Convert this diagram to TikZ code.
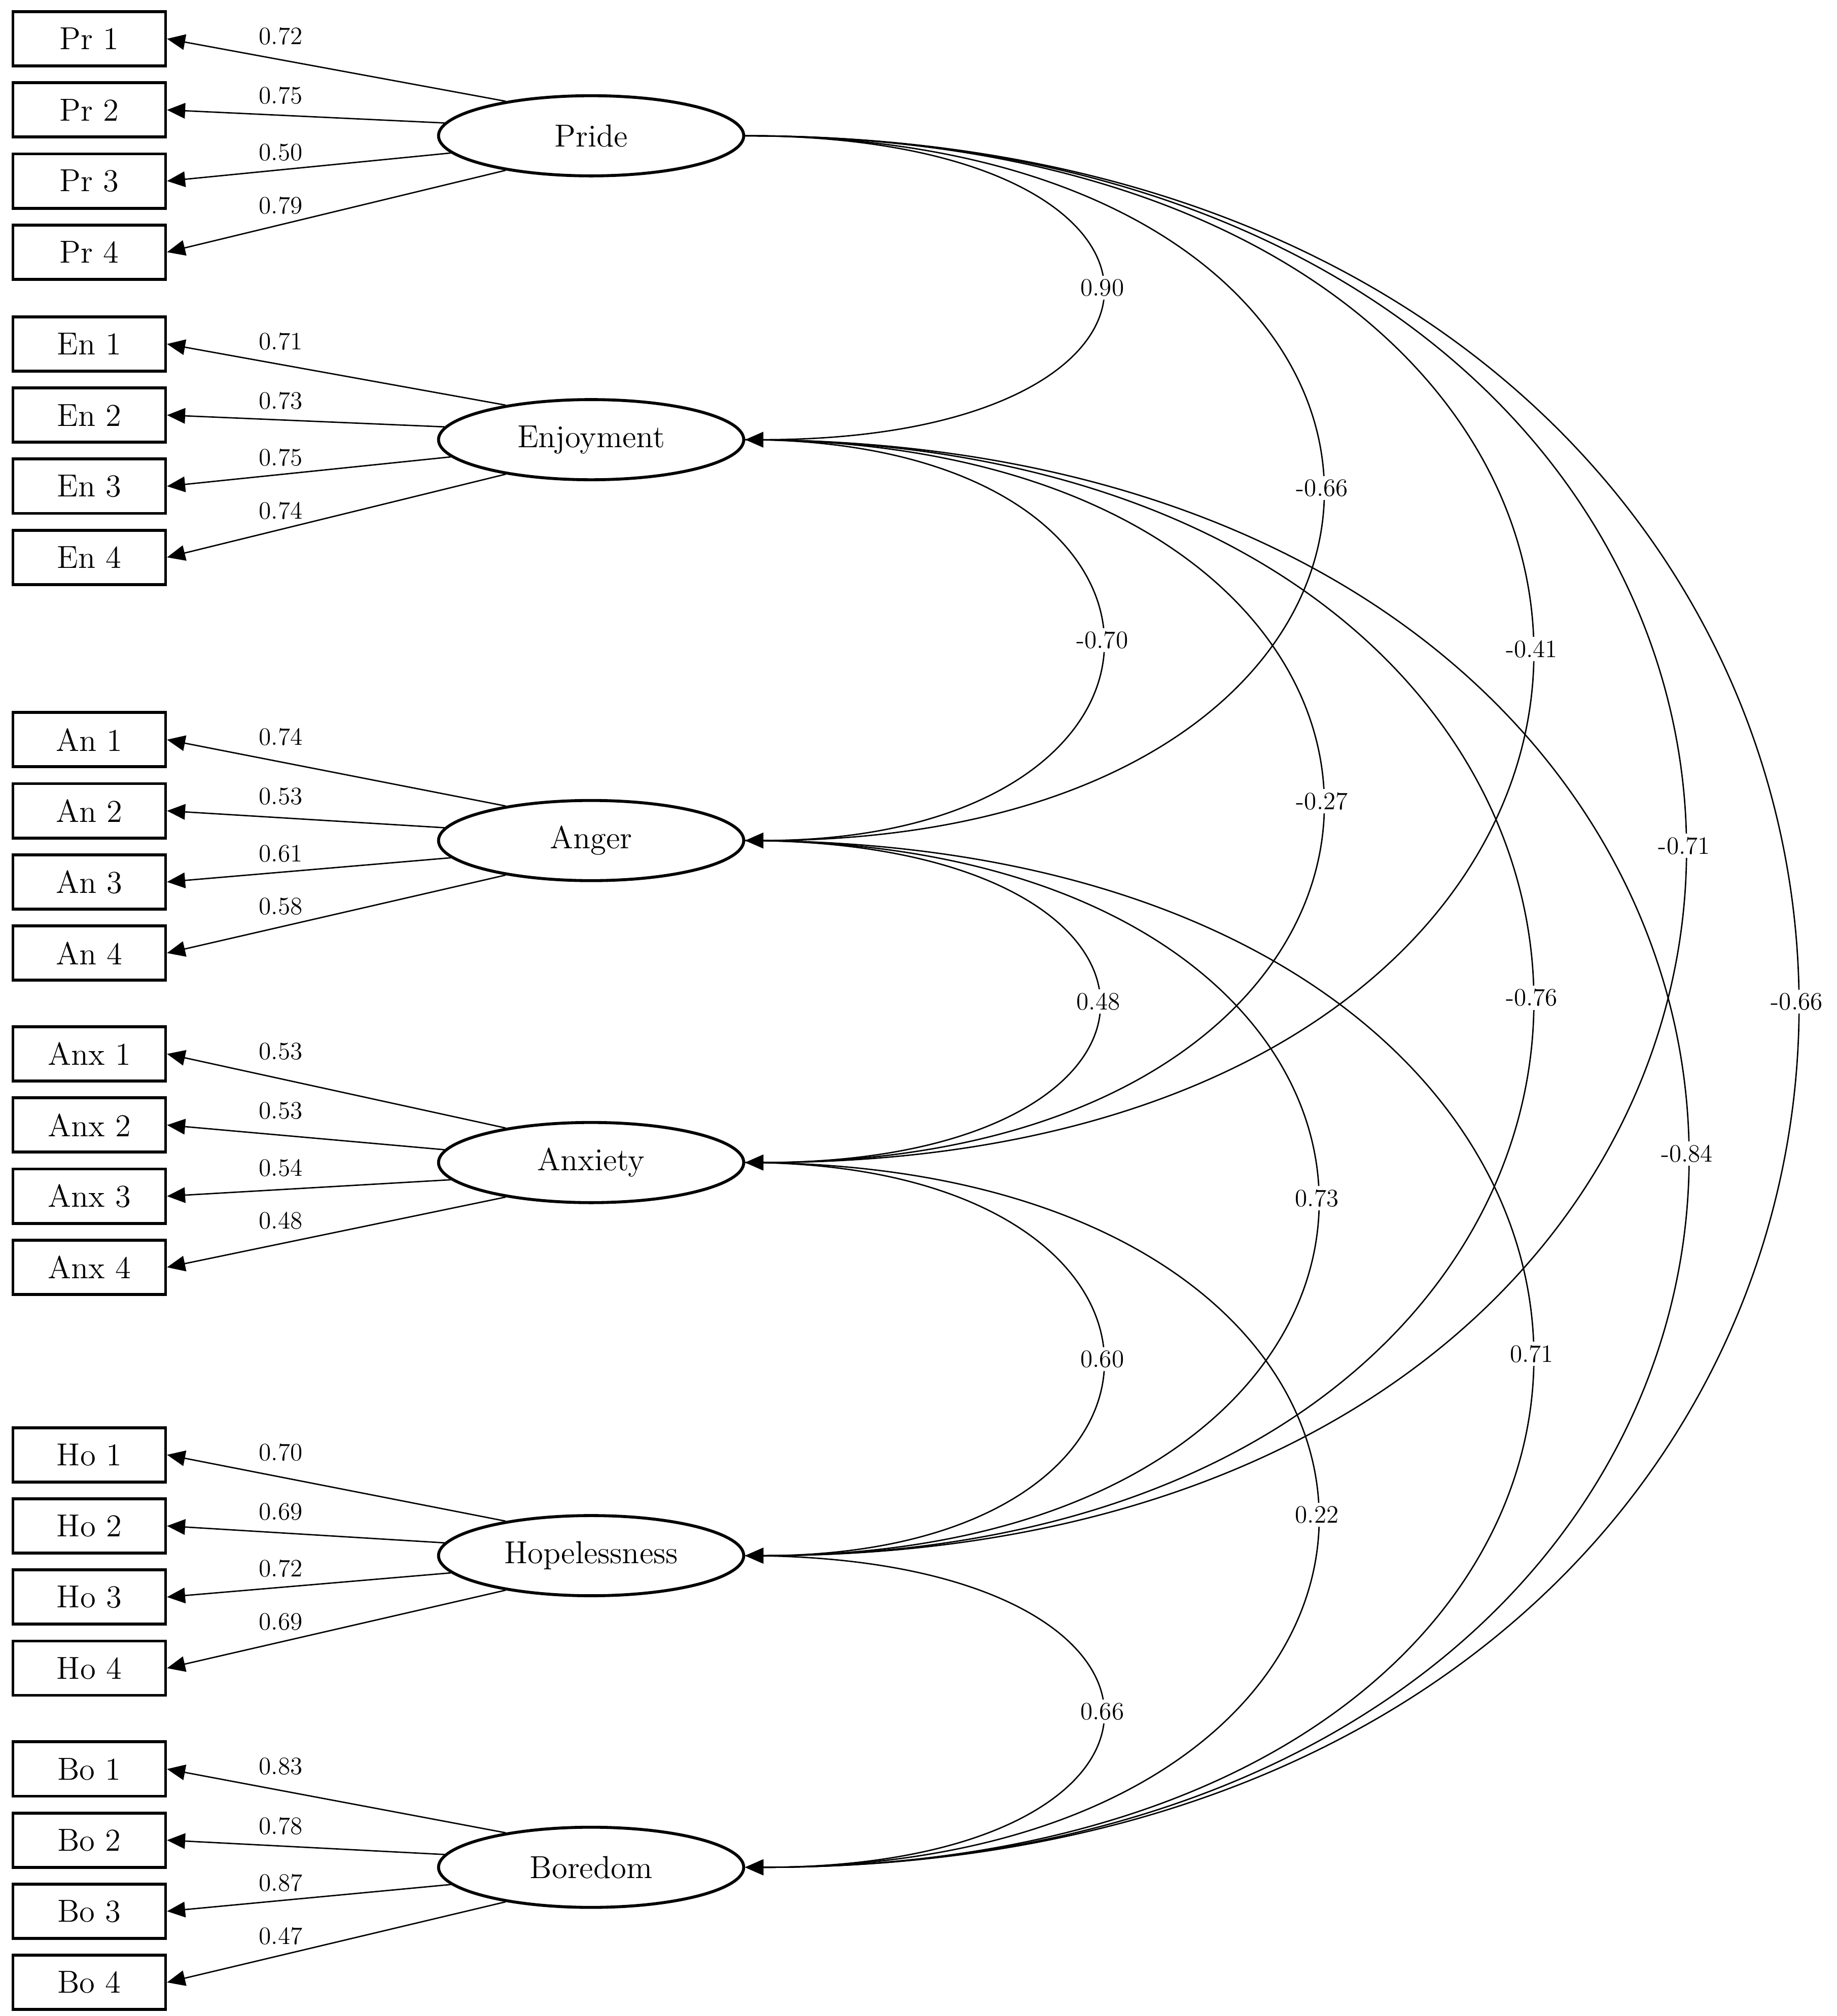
\documentclass[tikz,border=0pt]{standalone}
\usetikzlibrary{shapes.geometric,arrows.meta,calc}
\tikzset{
  item/.style={draw,line width=1.3pt,minimum width=2.36cm,minimum height=0.84cm,inner sep=0pt,font=\fontsize{14}{16}\selectfont},
  factor/.style={draw,ellipse,line width=1.3pt,minimum width=4.72cm,minimum height=1.24cm,inner sep=0pt,font=\fontsize{14}{16}\selectfont},
  load/.style={line width=0.6pt,-{Triangle[length=2.8mm,width=2.4mm]}},
  cov/.style={line width=0.6pt,-{Triangle[length=2.8mm,width=2.4mm]}},
  lbl/.style={font=\fontsize{11}{13}\selectfont,inner sep=1.5pt},
  clbl/.style={lbl,fill=white}
}
\begin{document}
\begin{tikzpicture}[x=0.02cm,y=-0.02cm]
  \useasboundingbox (0,0) rectangle (1420,1559);

  % latent factors
  \node[factor] (Pride) at (457,105) {Pride};
  \node[factor] (Enjoyment) at (457,340) {Enjoyment};
  \node[factor] (Anger) at (457,650) {Anger};
  \node[factor] (Anxiety) at (457,899) {Anxiety};
  \node[factor] (Hopelessness) at (457,1203) {Hopelessness};
  \node[factor] (Boredom) at (457,1444) {Boredom};

  % indicators and loadings
  \foreach \f/\p/\y/\la/\lb/\lc/\ld in {
      Pride/Pr/30/0.72/0.75/0.50/0.79,
      Enjoyment/En/266/0.71/0.73/0.75/0.74,
      Anger/An/572/0.74/0.53/0.61/0.58,
      Anxiety/Anx/815/0.53/0.53/0.54/0.48,
      Hopelessness/Ho/1125/0.70/0.69/0.72/0.69,
      Boredom/Bo/1368/0.83/0.78/0.87/0.47}{
    \foreach \i/\ang/\off/\v in {1/158/-2/\la,2/175/-11/\lb,3/187/-22/\lc,4/202/-36/\ld}{
      \node[item] (\p\i) at (69,{\y+55*(\i-1)}) {\p\ \i};
      \draw[load] (\f.\ang) -- (\p\i.east);
      \node[lbl] (l\p\i) at (217,{\y+55*(\i-1)+\off}) {\v};
    }
  }

  % factor covariances
  \foreach \a/\b/\v/\xl in {
      Pride/Enjoyment/0.90/851, Pride/Anger/-0.66/1021, Pride/Anxiety/-0.41/1183,
      Pride/Hopelessness/-0.71/1301, Pride/Boredom/-0.66/1388,
      Enjoyment/Anger/-0.70/851, Enjoyment/Anxiety/-0.27/1021,
      Enjoyment/Hopelessness/-0.76/1183, Enjoyment/Boredom/-0.84/1303,
      Anger/Anxiety/0.48/848, Anger/Hopelessness/0.73/1017, Anger/Boredom/0.71/1183,
      Anxiety/Hopelessness/0.60/851, Anxiety/Boredom/0.22/1017,
      Hopelessness/Boredom/0.66/851}{
    \pgfmathsetmacro\cx{(\xl-575)/0.75}
    \draw[cov] (\a.east) .. controls ($(\a.east)+(\cx,0)$) and ($(\b.east)+(\cx,0)$) .. (\b.east)
      node[clbl,pos=.5] (c\a\b) {\v};
  }
\end{tikzpicture}
\end{document}
